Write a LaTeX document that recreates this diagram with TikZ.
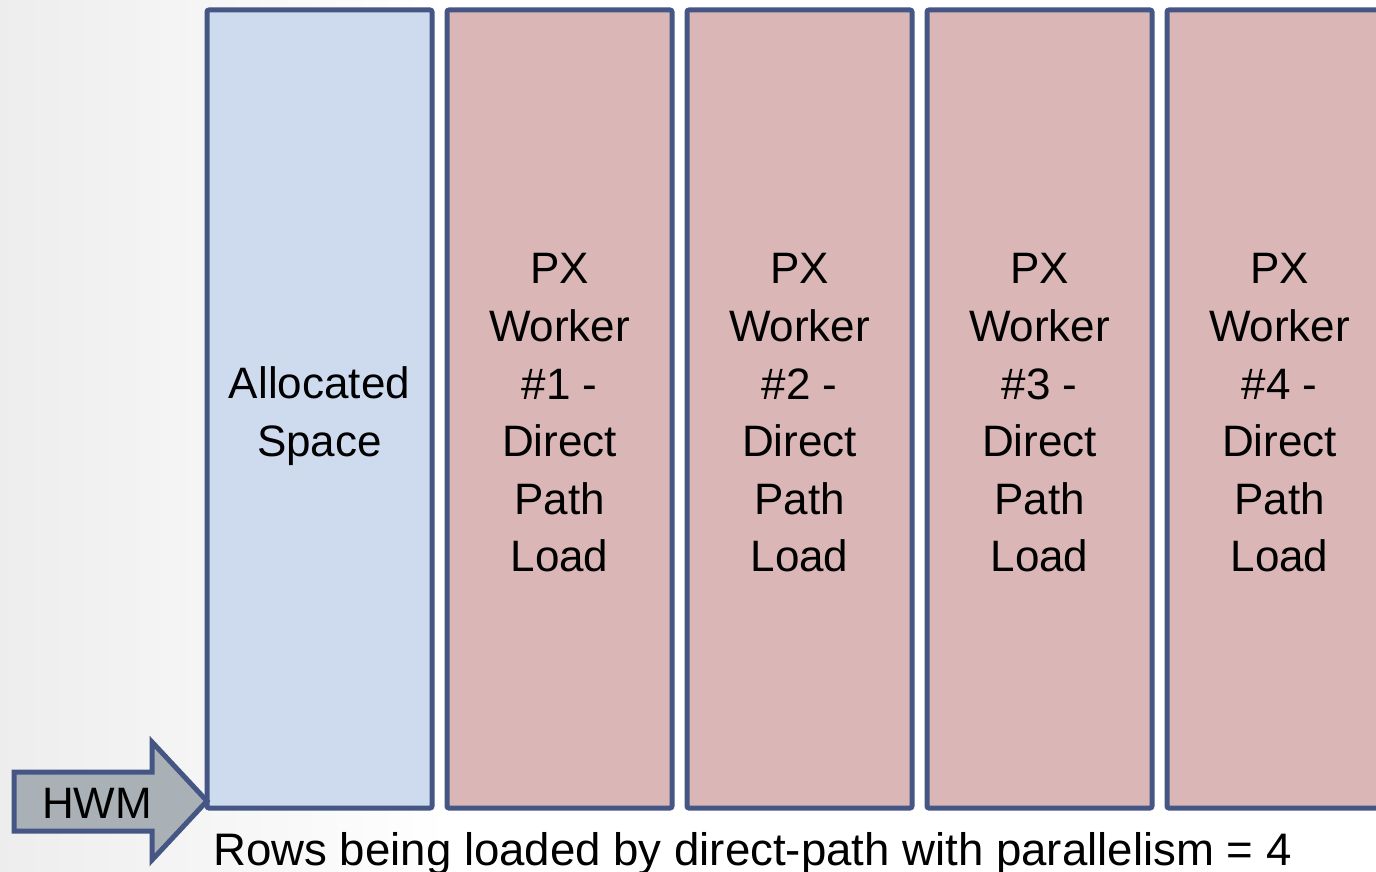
\documentclass[tikz,border=0pt]{standalone}
\usepackage{fontspec}
\setmainfont{Liberation Sans}
\definecolor{bordc}{HTML}{465684}
\definecolor{allocc}{HTML}{CEDBEE}
\definecolor{pinkc}{HTML}{DAB6B6}
\definecolor{arrowc}{HTML}{A9B1B6}
\begin{document}
\begin{tikzpicture}[x=1pt,y=-1pt,
  colbox/.style={draw=bordc, line width=5pt, rounded corners=2pt,
    minimum width=225pt, minimum height=798pt, inner sep=0pt},
  allocbox/.style={colbox, fill=allocc},
  workbox/.style={colbox, fill=pinkc},
  boxtext/.style={align=center, inner sep=0pt, font=\fontsize{44}{57.6}\selectfont},
  bigtext/.style={font=\fontsize{44}{52}\selectfont, inner sep=0pt}]
\useasboundingbox (0,0) rectangle (1376,872);
\shade[left color=black!7, right color=white] (0,0) rectangle (450,872);
\node[allocbox] (alloc) at (319.5,409) {};
\node[workbox] (w1) at (559.5,409) {};
\node[workbox] (w2) at (799.5,409) {};
\node[workbox] (w3) at (1039.5,409) {};
\node[workbox] (w4) at (1279.5,409) {};
\node[boxtext] (talloc) at ([yshift=-7pt]alloc.center) {Allocated\\Space};
\node[boxtext] (tw1) at ([yshift=-4pt]w1.center) {PX\\Worker\\\#1 -\\Direct\\Path\\Load};
\node[boxtext] (tw2) at ([yshift=-4pt]w2.center) {PX\\Worker\\\#2 -\\Direct\\Path\\Load};
\node[boxtext] (tw3) at ([yshift=-4pt]w3.center) {PX\\Worker\\\#3 -\\Direct\\Path\\Load};
\node[boxtext] (tw4) at ([yshift=-4pt]w4.center) {PX\\Worker\\\#4 -\\Direct\\Path\\Load};
\coordinate (tip) at (207,801);
\draw[draw=bordc, fill=arrowc, line width=5pt, line join=miter]
  (14,772) -- (152,772) -- (152,742) -- (tip) -- (152,860) -- (152,831) -- (14,831) -- cycle;
\node[bigtext] (hwm) at (97,803) {HWM};
\node[font=\fontsize{45.6}{52}\selectfont, inner sep=0pt, anchor=base west] (cap) at (213,865) {Rows being loaded by direct-path with parallelism = 4};
\end{tikzpicture}
\end{document}
